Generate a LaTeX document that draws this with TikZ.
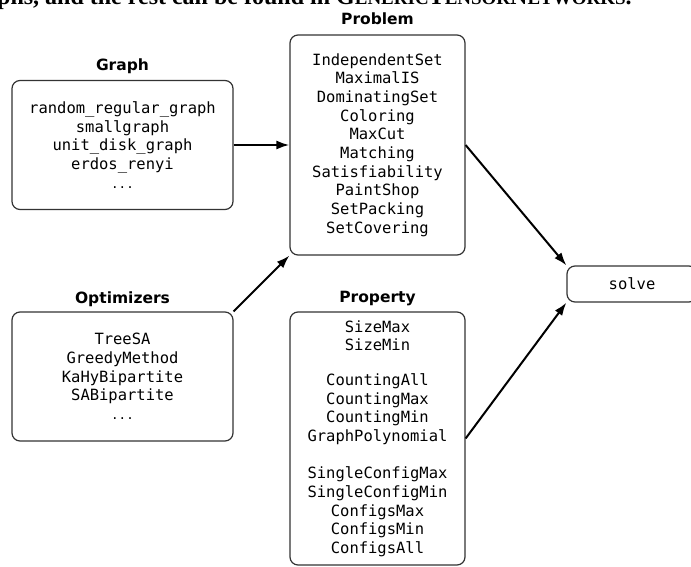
\documentclass[tikz,border=0pt]{standalone}
\usepackage{fontspec}
\setmainfont{DejaVu Sans}
\setmonofont{DejaVu Sans Mono}
\newfontfamily\hdrfont{Liberation Serif}
\usetikzlibrary{arrows.meta}
\tikzset{
  box/.style={draw=black!80, line width=1.2pt, rounded corners=8pt, align=center,
    inner sep=0pt, font=\ttfamily\fontsize{15.5}{18.67}\selectfont},
  ttl/.style={font=\bfseries\fontsize{15.5}{18}\selectfont, anchor=base, inner sep=0pt},
  arr/.style={-{Latex[length=13pt,width=9pt]}, line width=2pt, black},
}
\newcommand{\smalldots}{{\fontsize{12.5}{18.67}\selectfont ...}}
\newcommand{\hsc}[1]{{\fontsize{19}{20}\selectfont #1}}
\begin{document}
\begin{tikzpicture}[x=1pt, y=-1pt]
\useasboundingbox (0,0) rectangle (691,567);
\clip (0,0) rectangle (691,567);
% cut-off line of the surrounding text
\node[anchor=base west, inner sep=0pt, font=\hdrfont\bfseries\fontsize{24}{26}\selectfont] (hdr) at (-3,5)
  {phs, and the rest can be found in G\hsc{ENERIC}T\hsc{ENSOR}N\hsc{ETWORKS}.};
% boxes
\node[box, minimum width=221pt, minimum height=129pt] (g) at (122.5,145)
  {random\_regular\_graph\\smallgraph\\unit\_disk\_graph\\erdos\_renyi\\\smalldots};
\node[box, minimum width=175pt, minimum height=220pt] (p) at (377.5,145)
  {IndependentSet\\MaximalIS\\DominatingSet\\Coloring\\MaxCut\\Matching\\Satisfiability\\PaintShop\\SetPacking\\SetCovering};
\node[box, minimum width=221pt, minimum height=129pt] (o) at (122.5,376.5)
  {TreeSA\\GreedyMethod\\KaHyBipartite\\SABipartite\\\smalldots};
\node[box, minimum width=175pt, minimum height=253pt] (pr) at (377.5,438.5)
  {SizeMax\\SizeMin\\[16pt]CountingAll\\CountingMax\\CountingMin\\GraphPolynomial\\[18.67pt]SingleConfigMax\\SingleConfigMin\\ConfigsMax\\ConfigsMin\\ConfigsAll};
\node[box, minimum width=130pt, minimum height=36pt] (s) at (632,284) {solve};
% titles
\node[ttl] (gt) at (122.5,71) {Graph};
\node[ttl] (pt) at (377.5,25) {Problem};
\node[ttl] (ot) at (122.5,303) {Optimizers};
\node[ttl] (prt) at (377.5,302) {Property};
% connectors
\draw[arr] (g.east) -- (p.west);
\draw[arr] (o.north east) -- (p.south west);
\draw[arr] (p.east) -- (s.north west);
\draw[arr] (pr.east) -- (s.south west);
\end{tikzpicture}
\end{document}
